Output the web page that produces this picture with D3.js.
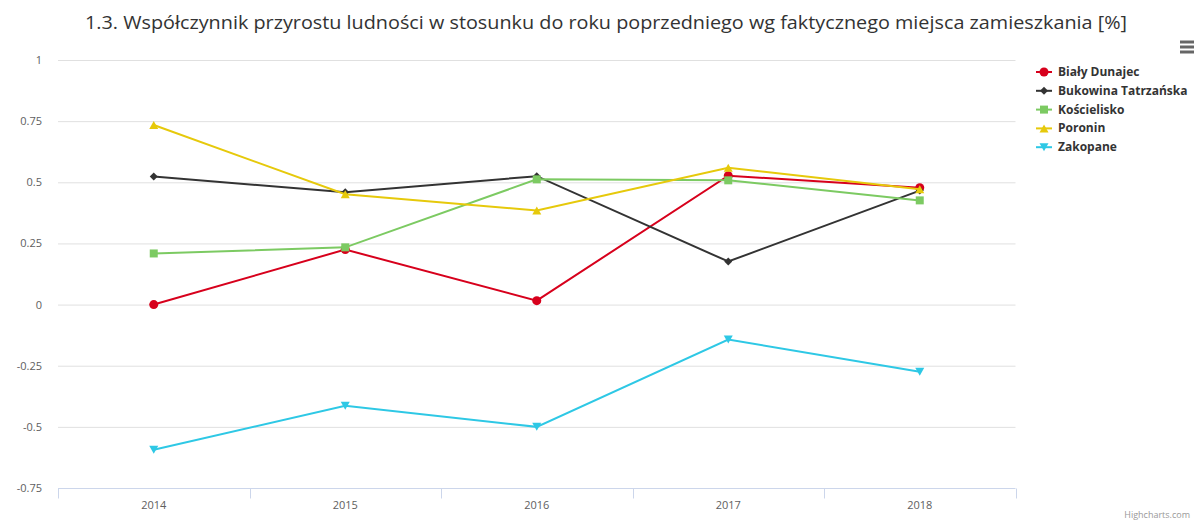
<!DOCTYPE html>
<html><head><meta charset="utf-8">
<script src="https://cdn.jsdelivr.net/npm/d3@7"></script>
<style>body{margin:0;background:#fff;}svg{display:block;font-family:"Open Sans",Arial,sans-serif;}</style>
</head><body><svg id="c" width="1200" height="522"></svg>
<script>
const years = ["2014","2015","2016","2017","2018"];
const seriesNames = ["Biały Dunajec","Bukowina Tatrzańska","Kościelisko","Poronin","Zakopane"];
const bialyDunajec = [0.0, 0.225, 0.016, 0.527, 0.478];
const bukowina = [0.524, 0.459, 0.525, 0.176, 0.466];
const koscielisko = [0.209, 0.234, 0.512, 0.508, 0.426];
const poronin = [0.734, 0.451, 0.385, 0.559, 0.472];
const zakopane = [-0.594, -0.414, -0.5, -0.143, -0.275];
const yTicks = [-0.75,-0.5,-0.25,0,0.25,0.5,0.75,1];
const colors = ["#d7001c","#333333","#7cca62","#e6c90b","#2ec8e5"];
const symbols = ["circle","diamond","square","triangle","down"];
const allValues = [bialyDunajec, bukowina, koscielisko, poronin, zakopane];

const svg = d3.select("#c");
const x = d3.scaleBand().domain(years).range([58, 1015.5]);
const y = d3.scaleLinear().domain([-0.75, 1]).range([488, 60]);

svg.append("text").attr("x", 606).attr("y", 29).attr("text-anchor","middle")
  .attr("font-size", 18).attr("fill","#333").attr("textLength",1042).attr("lengthAdjust","spacingAndGlyphs")
  .text("1.3. Współczynnik przyrostu ludności w stosunku do roku poprzedniego wg faktycznego miejsca zamieszkania [%]");

// grid
svg.append("g").selectAll("line").data(yTicks.filter(t=>t>-0.75)).join("line")
  .attr("x1",58).attr("x2",1015.5).attr("y1",d=>y(d)+0.5).attr("y2",d=>y(d)+0.5)
  .attr("stroke","#e0e0e0").attr("stroke-width",1);
// y labels
svg.append("g").selectAll("text").data(yTicks).join("text")
  .attr("x",42).attr("y",d=>y(d)+4).attr("text-anchor","end").attr("font-size",11).attr("fill","#606060")
  .text(d=>d3.format("")(d).replace("\u2212","-"));
// x axis
const xg = svg.append("g").attr("transform","translate(0,488.5)");
xg.append("line").attr("x1",58).attr("x2",1015.5).attr("stroke","#ccd6eb");
const bounds = years.map(yr=>x(yr)).concat([x.range()[1]]);
xg.selectAll("line.tk").data(bounds).join("line").attr("class","tk")
  .attr("x1",d=>Math.round(d)+0.5).attr("x2",d=>Math.round(d)+0.5).attr("y1",0).attr("y2",10).attr("stroke","#ccd6eb");
xg.selectAll("text").data(years).join("text")
  .attr("x",d=>x(d)+x.bandwidth()/2).attr("y",20).attr("text-anchor","middle").attr("font-size",11).attr("fill","#606060")
  .text(d=>d);

const cx = d=>x(d)+x.bandwidth()/2;
const line = d3.line().x((v,i)=>cx(years[i])).y(v=>y(v));
function sym(i){
  switch(symbols[i]){
    case "circle": return d3.symbol().type(d3.symbolCircle).size(64)();
    case "diamond": return "M0,-4L4,0L0,4L-4,0Z";
    case "square": return "M-4,-4H4V4H-4Z";
    case "triangle": return "M0,-4L4.5,4L-4.5,4Z";
    default: return "M-4.5,-4L4.5,-4L0,4Z";
  }
}
allValues.forEach((vals,i)=>{
  const g = svg.append("g");
  g.append("path").attr("d",line(vals)).attr("fill","none").attr("stroke",colors[i]).attr("stroke-width",2);
  g.selectAll("path.m").data(vals).join("path").attr("class","m")
    .attr("transform",(v,j)=>`translate(${cx(years[j])},${y(v)})`)
    .attr("d",sym(i)).attr("fill",colors[i]);
});

// legend
const lg = svg.append("g").attr("transform","translate(1036,72)");
seriesNames.forEach((n,i)=>{
  const r = lg.append("g").attr("transform",`translate(0,${i*18.8})`);
  r.append("line").attr("x1",0).attr("x2",16).attr("stroke",colors[i]).attr("stroke-width",2);
  r.append("path").attr("transform","translate(8,0)").attr("d",sym(i)).attr("fill",colors[i]);
  r.append("text").attr("x",22).attr("y",4).attr("font-size",12).attr("font-weight","bold").attr("fill","#333").text(n);
});

// menu icon
const mg = svg.append("g").attr("transform","translate(1180,42)");
[0,5,10].forEach(dy=>mg.append("line").attr("x1",0).attr("x2",14).attr("y1",dy).attr("y2",dy)
  .attr("stroke","#666").attr("stroke-width",3));

svg.append("text").attr("x",1190).attr("y",518).attr("text-anchor","end").attr("font-size",9).attr("fill","#999").text("Highcharts.com");
</script></body></html>
